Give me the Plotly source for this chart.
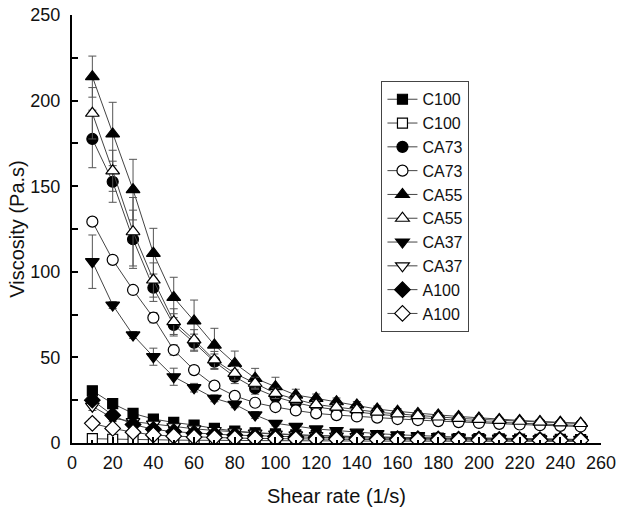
import plotly.graph_objects as go

shear_rate = [10, 20, 30, 40, 50, 60, 70, 80, 90, 100, 110, 120, 130, 140, 150,
              160, 170, 180, 190, 200, 210, 220, 230, 240, 250]

c100_filled = [30.5, 23, 17.3, 14, 12, 10.5, 8.5, 7, 6, 5.3, 4.8, 4.3, 4, 3.7, 3.4,
               3.2, 3, 2.8, 2.6, 2.5, 2.4, 2.3, 2.2, 2.1, 2.0]
c100_open = [2.5, 2.2, 2.0, 1.8, 1.7, 1.6, 1.5, 1.4, 1.4, 1.3, 1.3, 1.2, 1.2, 1.2, 1.1,
             1.1, 1.1, 1.0, 1.0, 1.0, 1.0, 0.9, 0.9, 0.9, 0.9]
ca73_filled = [177.6, 152.6, 119, 90.7, 69, 58.6, 47.5, 38.7, 32, 27, 23.5, 21, 19.5, 18, 16.8,
               15.8, 14.8, 14, 13.2, 12.5, 12, 11.5, 11, 10.6, 10.2]
ca73_open = [129.3, 107, 89.4, 73.2, 54.3, 42.6, 33.5, 27.5, 23.5, 21, 19, 17.3, 16.3, 15.5, 14.8,
             14, 13.4, 12.8, 12.2, 11.7, 11.2, 10.8, 10.4, 10, 9.6]
ca55_filled = [214, 180.5, 148, 110.8, 85, 71.3, 57.2, 46.5, 37.8, 32.9, 28, 26.1, 24.1, 22.2, 19.8,
               18.5, 17.3, 16.4, 15.5, 14.6, 13.8, 13.2, 12.6, 12.1, 11.6]
ca55_open = [192.6, 159, 123.4, 95.2, 70.9, 60.2, 48.5, 40.7, 34.9, 29, 25.5, 22.5, 21, 19.5, 18,
             17, 16, 15.2, 14.4, 13.8, 13.2, 12.7, 12.2, 11.8, 11.4]
ca37_filled = [105.9, 80.6, 63.1, 50.4, 38.7, 32.3, 26.1, 22.6, 16.4, 11.5, 9.7, 8.2, 7.3, 6.3, 5.5,
               4.8, 4.3, 3.8, 3.4, 3.0, 2.8, 2.6, 2.4, 2.2, 2.0]
ca37_open = [21.5, 14.5, 12.5, 11, 9.5, 8.3, 7.3, 6.5, 5.8, 5.2, 4.7, 4.3, 4, 3.7, 3.4,
             3.2, 3, 2.8, 2.7, 2.6, 2.5, 2.4, 2.3, 2.2, 2.1]
a100_filled = [25, 16.2, 10.8, 8, 6.6, 5.7, 5.2, 4.6, 4.2, 3.8, 3.5, 3.3, 3.1, 2.9, 2.7,
               2.6, 2.5, 2.4, 2.3, 2.2, 2.1, 2.0, 1.9, 1.8, 1.8]
a100_open = [11.5, 8.5, 6.3, 4.7, 4, 3.5, 3.2, 2.9, 2.7, 2.5, 2.4, 2.3, 2.2, 2.1, 2.0,
             1.9, 1.8, 1.8, 1.7, 1.7, 1.6, 1.6, 1.5, 1.5, 1.5]

ca55_filled_err = [12, 18.5, 17.7, 14.6, 11.8, 12.2, 9.8, 7.2, 5.8, 5.5, 3.4, 2.5, 2.2, 2, 1.8,
                   1.6, 1.5, 1.4, 1.3, 1.2, 1.2, 1.1, 1.1, 1, 1]
ca55_open_err = [15, 12, 20, 10, 7.5, 6, 5, 4, 3.5, 3, 2.5, 2.2, 2, 1.8, 1.6,
                 1.5, 1.4, 1.3, 1.2, 1.2, 1.1, 1.1, 1, 1, 1]
ca73_filled_err = [16.8, 12, 17, 8, 6.5, 5, 4.5, 4, 3.5, 3, 2.5, 2.2, 2, 1.8, 1.6,
                   1.5, 1.4, 1.3, 1.2, 1.2, 1.1, 1.1, 1, 1, 1]
ca73_open_err = [2, 2, 2, 3, 3, 2.5, 2, 2, 2, 1.5, 1.5, 1.2, 1.2, 1, 1,
                 1, 1, 1, 1, 1, 1, 1, 1, 1, 1]
ca37_filled_err = [15.6, 2, 2, 5, 5, 2.5, 2, 2, 2, 1.5, 1.5, 1.2, 1.2, 1, 1,
                   1, 1, 1, 1, 1, 1, 1, 1, 1, 1]
small_err = [2.5, 2, 1.5, 1.5, 1.5, 1.2, 1.2, 1, 1, 1, 1, 1, 1, 1, 1,
             1, 1, 1, 1, 1, 1, 1, 1, 1, 1]

series = [
    ("C100", c100_filled, "square", True, small_err),
    ("C100", c100_open, "square-open", False, small_err),
    ("CA73", ca73_filled, "circle", True, ca73_filled_err),
    ("CA73", ca73_open, "circle-open", False, ca73_open_err),
    ("CA55", ca55_filled, "triangle-up", True, ca55_filled_err),
    ("CA55", ca55_open, "triangle-up-open", False, ca55_open_err),
    ("CA37", ca37_filled, "triangle-down", True, ca37_filled_err),
    ("CA37", ca37_open, "triangle-down-open", False, small_err),
    ("A100", a100_filled, "diamond", True, small_err),
    ("A100", a100_open, "diamond-open", False, small_err),
]

fig = go.Figure()
for name, ys, sym, filled, err in series:
    base = sym.replace("-open", "")
    if "triangle" in base:
        size = 12
    elif base == "diamond":
        size = 12
    elif base == "circle":
        size = 11
    else:
        size = 10
    fig.add_trace(go.Scatter(
        x=shear_rate, y=ys, name=name, mode="lines+markers",
        line=dict(color="#444444", width=1),
        marker=dict(symbol=base, size=size,
                    color="black" if filled else "white",
                    line=dict(color="black", width=1.2)),
        error_y=dict(type="data", array=err, visible=True,
                     color="#555555", thickness=1, width=4),
    ))

font_family = "Liberation Sans, Arial, sans-serif"
fig.update_layout(
    width=623, height=511,
    margin=dict(l=72, r=22, t=15, b=68),
    paper_bgcolor="white", plot_bgcolor="white",
    font=dict(family=font_family, color="#111111", size=18),
    showlegend=True,
    legend=dict(x=0.585, y=0.845, xanchor="left", yanchor="top",
                bgcolor="white", bordercolor="#444444", borderwidth=1,
                font=dict(size=16, family=font_family), tracegroupgap=0,
                itemwidth=30),
    xaxis=dict(range=[0, 260], dtick=20, tick0=0, showgrid=False, zeroline=False,
               automargin=False, ticklabeloverflow="allow",
               showline=True, linecolor="black", linewidth=2,
               ticks="inside", ticklen=6, tickcolor="black", tickwidth=1.5,
               minor=dict(ticks="inside", ticklen=3, dtick=10, tickcolor="black"),
               ticklabelstandoff=2,
               title=dict(text="Shear rate (1/s)", font=dict(size=20), standoff=17)),
    yaxis=dict(range=[0, 250], dtick=50, tick0=0, showgrid=False, zeroline=False,
               automargin=False, ticklabeloverflow="allow",
               showline=True, linecolor="black", linewidth=2,
               ticks="inside", ticklen=6, tickcolor="black", tickwidth=1.5,
               minor=dict(ticks="inside", ticklen=6, dtick=25, tickcolor="black"),
               ticklabelstandoff=6,
               title=dict(text="Viscosity (Pa.s)", font=dict(size=20), standoff=0)),
)

fig.write_html("out.html", config={"displayModeBar": False},
               post_script="document.body.style.margin='0px';document.body.style.overflow='hidden';")
